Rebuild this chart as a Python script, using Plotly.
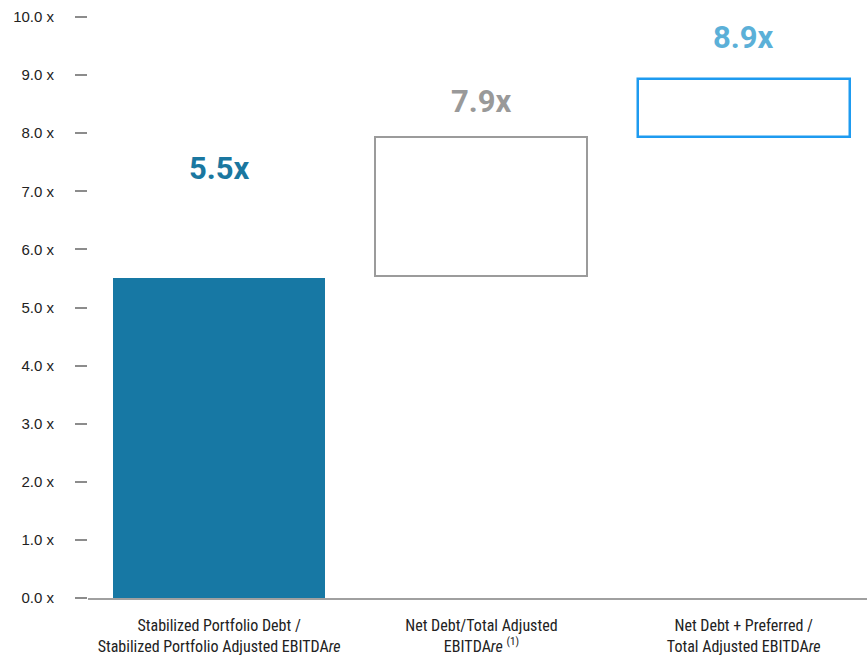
import plotly.graph_objects as go

categories = [
    "Stabilized Portfolio Debt /<br>Stabilized Portfolio Adjusted EBITDA<i>re</i>",
    "Net Debt/Total Adjusted<br>EBITDA<i>re</i> <sup>(1)</sup>",
    "Net Debt + Preferred /<br>Total Adjusted EBITDA<i>re</i>",
]
bar_start = [0.0, 5.55, 7.93]
bar_end = [5.5, 7.93, 8.93]
value_labels = ["5.5x", "7.9x", "8.9x"]
tick_vals = [0, 1, 2, 3, 4, 5, 6, 7, 8, 9, 10]
tick_text = ["%.1f x" % v for v in tick_vals]

# styling / positions (not data)
label_y = [7.4, 8.55, 9.65]
fill_colors = ["#1778A4", "#FFFFFF", "#FFFFFF"]
line_colors = ["#1778A4", "#9B9B9B", "#1E9BF0"]
line_widths = [0, 2, 2.5]
label_colors = ["#1A77A0", "#999999", "#5BB0D8"]

x = [0, 1, 2]
fig = go.Figure()
for i in range(3):
    fig.add_trace(go.Bar(
        x=[x[i]], y=[bar_end[i] - bar_start[i]], base=[bar_start[i]],
        width=0.808,
        marker=dict(color=fill_colors[i], line=dict(color=line_colors[i], width=line_widths[i])),
        showlegend=False, hoverinfo="skip",
    ))
    fig.add_annotation(
        x=x[i], y=label_y[i], text="<b>%s</b>" % value_labels[i], showarrow=False,
        font=dict(family="Roboto, Arial", size=31, color=label_colors[i]),
        xanchor="center", yanchor="middle",
    )

fig.update_layout(
    width=867, height=656,
    margin=dict(l=88, r=0, t=17, b=58, autoexpand=False),
    paper_bgcolor="white", plot_bgcolor="white",
    bargap=0,
)
fig.update_xaxes(
    range=[-0.5, 2.47], tickvals=x, ticktext=categories,
    showgrid=False, zeroline=False,
    showline=True, linecolor="#A0A0A0", linewidth=2,
    ticks="", ticklabelstandoff=12,
    tickfont=dict(family="Liberation Sans Narrow, Roboto Condensed, Roboto", size=16, color="#222222"),
    automargin=False,
)
fig.update_yaxes(
    range=[0, 10], tickvals=tick_vals, ticktext=tick_text,
    showgrid=False, zeroline=False, showline=False,
    ticks="outside", ticklen=12, tickwidth=1.5, tickcolor="#8C8C8C",
    ticklabelstandoff=18,
    tickfont=dict(family="Arial, Liberation Sans", size=15, color="#222222"),
    automargin=False,
)
fig.write_html("out.html")
